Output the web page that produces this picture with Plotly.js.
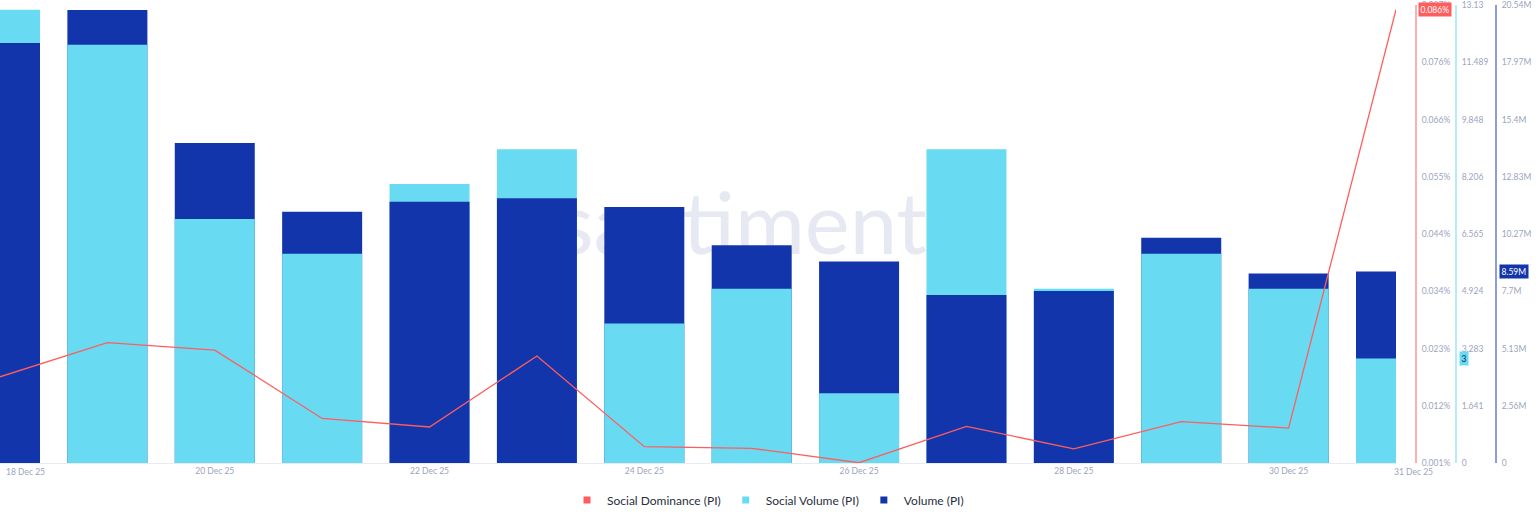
<!DOCTYPE html>
<html>
<head>
<meta charset="utf-8">
<script src="https://cdn.plot.ly/plotly-3.0.1.min.js"></script>
<style>
html,body{margin:0;padding:0;background:#fff;}
#chart{width:1536px;height:520px;}
</style>
</head>
<body>
<div id="chart"></div>
<script>
// ---- data ----
const DATES = ['2025-12-18','2025-12-19','2025-12-20','2025-12-21','2025-12-22','2025-12-23','2025-12-24',
               '2025-12-25','2025-12-26','2025-12-27','2025-12-28','2025-12-29','2025-12-30','2025-12-31'];
const SOCIAL_DOMINANCE = [0.0176, 0.0240, 0.0226, 0.0098, 0.0082, 0.0215, 0.0045,
                          0.0042, 0.0015, 0.0083, 0.0041, 0.0092, 0.0080, 0.0864]; // %
const SOCIAL_VOLUME = [13, 12, 7, 6, 8, 9, 4, 5, 2, 9, 5, 6, 5, 3];
const VOLUME = [18850000, 20330000, 14360000, 11270000, 11720000, 11880000, 11490000,
                9770000, 9040000, 7540000, 7720000, 10110000, 8500000, 8590000];

const X_TICK_DATES = ['2025-12-18','2025-12-20','2025-12-22','2025-12-24','2025-12-26','2025-12-28','2025-12-30','2025-12-31'];
const X_TICK_LABELS = ['18 Dec 25','20 Dec 25','22 Dec 25','24 Dec 25','26 Dec 25','28 Dec 25','30 Dec 25','31 Dec 25'];

const SD_TICKS = [0.00145, 0.01217, 0.02289, 0.03361, 0.04433, 0.05505, 0.06577, 0.07649, 0.08721];
const SD_TICK_LABELS = ['0.001%','0.012%','0.023%','0.034%','0.044%','0.055%','0.066%','0.076%','0.087%'];
const SV_TICKS = [0, 1.641, 3.283, 4.924, 6.565, 8.206, 9.848, 11.489, 13.13];
const SV_TICK_LABELS = ['0','1.641','3.283','4.924','6.565','8.206','9.848','11.489','13.13'];
const V_TICKS = [0, 2567500, 5135000, 7702500, 10270000, 12837500, 15405000, 17972500, 20540000];
const V_TICK_LABELS = ['0','2.56M','5.13M','7.7M','10.27M','12.83M','15.4M','17.97M','20.54M'];

const SERIES_NAMES = ['Social Dominance (PI)', 'Social Volume (PI)', 'Volume (PI)'];

// ---- styles ----
const C_SD = '#ff5d5d', C_SV = '#68dbf3', C_V = '#1335ac';
const FAMILY = 'Lato, "Liberation Sans", sans-serif';
const TICK_FONT = {family:FAMILY, size:8.5, color:'#9ba4c0'};

const SV_MAX = SV_TICKS[SV_TICKS.length-1];
const V_MAX = V_TICKS[V_TICKS.length-1];
const SD_MIN = SD_TICKS[0], SD_MAX = SD_TICKS[SD_TICKS.length-1];
const EPS = 1.0005; // tiny headroom so the top tick label is kept

// the relatively taller bar of each day sits behind the shorter one
const svBack = [], svFront = [], vBack = [], vFront = [];
SOCIAL_VOLUME.forEach((sv, i) => {
  const v = VOLUME[i];
  const svTaller = sv / SV_MAX >= v / V_MAX;
  svBack.push(svTaller ? sv : null);
  svFront.push(svTaller ? null : sv);
  vBack.push(svTaller ? null : v);
  vFront.push(svTaller ? v : null);
});

const barBase = {type:'bar', x:DATES, showlegend:false, hoverinfo:'skip'};
const traces = [
  Object.assign({}, barBase, {y:vBack,  yaxis:'y',  marker:{color:C_V,  line:{width:0}}}),
  Object.assign({}, barBase, {y:svBack, yaxis:'y2', marker:{color:C_SV, line:{width:0}}}),
  Object.assign({}, barBase, {y:vFront, yaxis:'y3', marker:{color:C_V,  line:{width:0}}}),
  Object.assign({}, barBase, {y:svFront,yaxis:'y4', marker:{color:C_SV, line:{width:0}}}),
  {type:'scatter', mode:'lines', x:DATES, y:SOCIAL_DOMINANCE, yaxis:'y5', showlegend:false,
   line:{color:C_SD, width:1.3}, hoverinfo:'skip'},
  // legend entries
  {type:'scatter', mode:'markers', x:[null], y:[null], yaxis:'y5', name:SERIES_NAMES[0], marker:{symbol:'square', size:7, color:C_SD}},
  {type:'scatter', mode:'markers', x:[null], y:[null], yaxis:'y5', name:SERIES_NAMES[1], marker:{symbol:'square', size:7, color:C_SV}},
  {type:'scatter', mode:'markers', x:[null], y:[null], yaxis:'y5', name:SERIES_NAMES[2], marker:{symbol:'square', size:7, color:C_V}}
];

const W = 1536;
function yAx(extra){
  return Object.assign({showgrid:false, zeroline:false, ticks:'', tickmode:'array', tickfont:TICK_FONT,
    side:'right', anchor:'free', showline:true, linewidth:2, fixedrange:true, ticklabelstandoff:3,
    ticklabeloverflow:'allow'}, extra);
}
const fmtM = v => (v/1e6).toFixed(2) + 'M';
const last = DATES.length - 1;

const layout = {
  width:1536, height:520,
  margin:{l:0, r:0, t:5, b:57, pad:0},
  paper_bgcolor:'#ffffff', plot_bgcolor:'rgba(0,0,0,0)',
  barmode:'overlay', bargap:0.255,
  font:{family:FAMILY},
  xaxis:{type:'date', range:[DATES[0], DATES[last]], domain:[0, 1396/W],
    tickmode:'array', tickvals:X_TICK_DATES.slice(1,-1), ticktext:X_TICK_LABELS.slice(1,-1),
    ticks:'', showgrid:false, zeroline:false, showline:true, linecolor:'#e8ebf2', linewidth:1,
    tickfont:TICK_FONT, fixedrange:true},
  yaxis: yAx({range:[0, V_MAX*EPS], position:1496/W, linecolor:'#8e9cd8', tickvals:V_TICKS, ticktext:V_TICK_LABELS}),
  yaxis2:yAx({range:[0, SV_MAX*EPS], position:1456/W, overlaying:'y', linecolor:'#b4ecf8', tickvals:SV_TICKS, ticktext:SV_TICK_LABELS}),
  yaxis3:{range:[0, V_MAX*EPS], overlaying:'y', visible:false, fixedrange:true},
  yaxis4:{range:[0, SV_MAX*EPS], overlaying:'y', visible:false, fixedrange:true},
  yaxis5:yAx({range:[SD_MIN, SD_MIN + (SD_MAX-SD_MIN)*EPS], position:1416/W, overlaying:'y', linecolor:'#ffb1b1',
    tickvals:SD_TICKS, ticktext:SD_TICK_LABELS}),
  legend:{orientation:'h', x:0.5, xanchor:'center', y:-(500-463)/458, yanchor:'middle',
    font:{family:FAMILY, size:12, color:'#2a2f40'}, itemwidth:30,
    bgcolor:'rgba(0,0,0,0)'},
  shapes:[{type:'rect', xref:'paper', yref:'paper', x0:0.405, x1:0.561, y0:0.45, y1:0.61, layer:'below',
    line:{width:0}, fillcolor:'rgba(0,0,0,0)',
    label:{text:'santiment', textposition:'middle center',
      font:{family:'Lato, sans-serif', size:85, color:'#e6e9f2', weight:400}}}],
  annotations:[
    {xref:'x', yref:'paper', x:X_TICK_DATES[0], y:-(471.5-463)/458, xanchor:'left', yanchor:'middle', xshift:4,
     text:X_TICK_LABELS[0], showarrow:false, font:TICK_FONT},
    {xref:'x', yref:'paper', x:X_TICK_DATES[X_TICK_DATES.length-1], y:-(471.5-463)/458, xanchor:'left', yanchor:'middle', xshift:-4,
     text:X_TICK_LABELS[X_TICK_LABELS.length-1], showarrow:false, font:TICK_FONT},
    {xref:'paper', yref:'y5', x:1418/W, y:SOCIAL_DOMINANCE[last], xanchor:'left', yanchor:'middle',
     text:SOCIAL_DOMINANCE[last].toFixed(3) + '%', showarrow:false, bgcolor:C_SD, borderpad:1.5,
     font:{family:FAMILY, size:8.5, color:'#ffffff'}},
    {xref:'paper', yref:'y2', x:1459/W, y:SOCIAL_VOLUME[last], xanchor:'left', yanchor:'middle',
     text:String(SOCIAL_VOLUME[last]), showarrow:false, bgcolor:C_SV, borderpad:1.5,
     font:{family:FAMILY, size:8.5, color:'#0e1b4a'}},
    {xref:'paper', yref:'y', x:1499/W, y:VOLUME[last], xanchor:'left', yanchor:'middle',
     text:fmtM(VOLUME[last]), showarrow:false, bgcolor:C_V, borderpad:1.5,
     font:{family:FAMILY, size:8.5, color:'#ffffff'}}
  ]
};

Plotly.newPlot('chart', traces, layout, {displayModeBar:false, staticPlot:true});
</script>
</body>
</html>
